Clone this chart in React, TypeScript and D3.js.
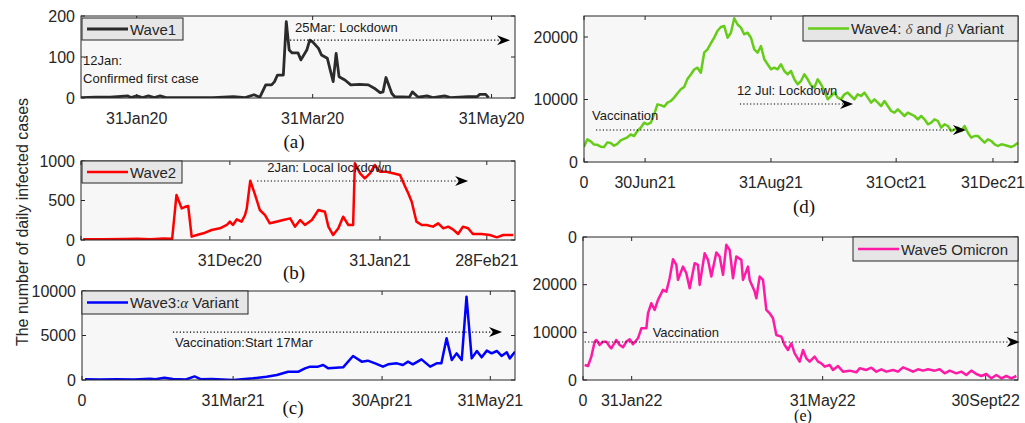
import React from "react";
import * as d3 from "d3";

// ---------------- DATA ----------------
// Wave 1 (a): day index from 12 Jan 2020
const wave1Days = [0, 5, 10, 16, 17, 19, 21, 23, 25, 27, 29, 36, 45, 52, 56, 59, 61, 63, 65, 66, 67, 69, 70, 71, 72, 74, 75, 77, 78, 79, 81, 82, 84, 85, 86, 87, 88, 90, 92, 95, 98, 100, 102, 103, 104, 106, 107, 112, 113, 115, 118, 120, 124, 126, 132, 135, 136, 138, 139];
const wave1Cases = [1, 2, 2, 5, 1, 5, 1, 5, 1, 5, 1, 1, 1, 3, 1, 8, 2, 32, 32, 40, 56, 56, 186, 117, 110, 110, 93, 117, 141, 137, 121, 105, 97, 68, 40, 109, 52, 44, 32, 33, 32, 24, 13, 15, 50, 11, 3, 2, 15, 2, 5, 1, 5, 1, 3, 3, 9, 9, 1];
const wave1TickPos = [19, 79, 140];
const wave1TickLabels = ["31Jan20", "31Mar20", "31May20"];

// Wave 2 (b)
const wave2Idx = [0.5, 5, 10, 13, 16, 19, 21, 22, 23.2, 24, 24.7, 25.5, 26.7, 28.2, 30.1, 32, 33.6, 34.3, 35, 35.9, 37, 37.8, 38.2, 39, 40, 41.2, 42.4, 43.5, 45, 46.6, 48.2, 49.3, 50.5, 51.6, 53.2, 54.7, 56.2, 57, 58.1, 59.3, 60.4, 61.6, 62.7, 63.1, 64.3, 65.4, 66.6, 67.7, 68.9, 70.4, 71.9, 73.5, 74.7, 75.4, 76.2, 77.3, 78.5, 79.6, 81.1, 82.3, 83.5, 84.6, 85.7, 86.9, 88, 89.2, 90.3, 92.3, 94.2, 95.8, 97.3, 99.6];
const wave2Cases = [9, 10, 12, 15, 8, 20, 15, 570, 400, 420, 430, 42, 63, 85, 127, 148, 190, 232, 190, 262, 232, 316, 400, 750, 591, 380, 316, 211, 232, 253, 274, 169, 253, 190, 253, 380, 358, 169, 63, 148, 295, 190, 190, 970, 844, 780, 844, 950, 865, 865, 844, 823, 675, 591, 485, 232, 190, 190, 169, 211, 148, 169, 135, 76, 169, 148, 76, 76, 63, 34, 63, 63];
const wave2TickPos = [0, 34.3, 68.9, 93.5];
const wave2TickLabels = ["0", "31Dec20", "31Jan21", "28Feb21"];

// Wave 3 (c)
const wave3Idx = [0.7, 4, 8, 12, 15.7, 17, 19, 21, 24, 26, 27.5, 30, 35, 39.5, 42.6, 45, 47.6, 50, 51.5, 52.7, 54.5, 55.7, 56.9, 60.3, 62.6, 64.6, 66, 67.7, 69.5, 70.7, 72.7, 74.1, 75.3, 76.4, 78.4, 80.4, 81.9, 83, 84.2, 85.4, 86.5, 87.7, 88.8, 90, 91.2, 92.3, 93.5, 94.6, 95.8, 96.9, 98.1, 98.8, 100];
const wave3Cases = [75, 50, 80, 60, 150, 90, 250, 100, 60, 400, 80, 100, 0, 187, 375, 560, 935, 935, 1310, 1500, 1500, 1685, 1310, 1420, 2700, 2060, 2170, 1870, 1500, 1760, 1870, 1685, 2060, 1760, 2320, 1500, 1870, 1870, 4680, 2250, 2990, 2250, 9360, 2430, 3260, 2550, 3300, 3000, 3260, 2700, 3110, 2430, 3180];
const wave3TickPos = [0, 34.9, 69.3, 94.3];
const wave3TickLabels = ["0", "31Mar21", "30Apr21", "31May21"];

// Wave 4 (d): consecutive index 0..130
const wave4Cases = [
  2450, 3630, 3300, 2800, 2750, 2450, 2400, 3140, 3040, 2600,
  2900, 3450, 3700, 3950, 4400, 4160, 4960, 5490, 6290, 6030,
  6290, 7620, 9220, 9100, 8840, 9500, 9760, 10300, 11000, 11630,
  12000, 13300, 14000, 14800, 15090, 14290, 17490, 18020, 19000, 19900,
  21000, 21600, 21760, 19890, 20690, 23000, 22000, 21490, 20430, 20690,
  19890, 18020, 17490, 18560, 16430, 15630, 14830, 15090, 14830, 15630,
  14560, 14030, 14560, 13230, 12430, 12960, 14030, 13230, 12270, 11900,
  13230, 12430, 11360, 10030, 10560, 11100, 10300, 10030, 10830, 11100,
  10560, 10030, 10830, 10560, 11100, 10300, 9500, 10030, 9500, 8960,
  9760, 8960, 8160, 7890, 8430, 7890, 7360, 7890, 7620, 7360,
  6830, 7360, 6830, 6030, 6290, 6830, 6560, 5490, 6030, 5760,
  4960, 5230, 5490, 4960, 5760, 4690, 3900, 4160, 4160, 3630,
  3100, 3630, 3360, 2830, 2560, 2830, 2720, 2560, 2400, 2670,
  3100,
];
const wave4Idx = wave4Cases.map((_, i) => i);
const wave4TickPos = [0, 18.3, 56, 93.5, 122.5];
const wave4TickLabels = ["0", "30Jun21", "31Aug21", "31Oct21", "31Dec21"];

// Wave 5 (e)
const wave5Idx = [0.5, 1.5, 2.5, 3.5, 4, 5, 6, 7, 8, 8.5, 10, 11, 12, 13, 14, 15, 16.5, 17.5, 19, 19.5, 20.5, 21.5, 22.5, 24, 25, 26, 27, 28, 28.5, 30, 31, 32, 33.5, 34.5, 35, 36.5, 37.5, 38.5, 40, 41, 42, 43, 44, 45, 46, 47.5, 48, 49.5, 50, 51.5, 52, 53, 54, 55, 56, 57, 58, 59.5, 60.5, 61.5, 62.5, 63.5, 65, 66, 67, 68, 69.5, 70.5, 71.5, 72.5, 74, 75, 76.5, 78, 80, 82, 83, 85, 86.5, 88, 89.5, 91, 93, 94.5, 96, 97.5, 99, 100.5, 102, 103.5, 105.5, 107, 108.5, 110, 112, 113.5, 115, 116.5, 118, 119.5, 121, 122.5, 124, 125.5, 127, 128.5, 130];
const wave5Cases = [3150, 2940, 4900, 8050, 8400, 7350, 8050, 8050, 7000, 6650, 8400, 7350, 6860, 8050, 8540, 7490, 8750, 10850, 10850, 14000, 16100, 14700, 16800, 18900, 18550, 21350, 25340, 24150, 21000, 23800, 22400, 19250, 24500, 24150, 19950, 26600, 25200, 21700, 26740, 25900, 22050, 28350, 27300, 21350, 25900, 25200, 21000, 23800, 21000, 18550, 17150, 21700, 21000, 14700, 14000, 12950, 9450, 9100, 7350, 6300, 7700, 5600, 3850, 6300, 4550, 3850, 4900, 3850, 3500, 2800, 3150, 2100, 2940, 1750, 1960, 1610, 2450, 2100, 2590, 1750, 2240, 1750, 2100, 1750, 2660, 2240, 1750, 2240, 1960, 2240, 1960, 2240, 1400, 1960, 1400, 1750, 1050, 1960, 1260, 840, 1260, 350, 1050, 350, 840, 350, 840];
const wave5TickPos = [0, 14.6, 71.9, 120.8];
const wave5TickLabels = ["0", "31Jan22", "31May22", "30Sept22"];

// ---------------- LAYOUT ----------------
const SANS = "'Liberation Sans', Arial, Helvetica, sans-serif";
const SERIF = "'Liberation Serif', 'Times New Roman', serif";
const AXIS = "#262626";

type Note = { text: string; x: number; y: number };
type Arrow = { x1: number; x2: number; y: number };
type Spec = {
  id: string;
  box: [number, number, number, number]; // left, top, right, bottom
  xDomain: [number, number];
  yDomain: [number, number];
  xs: number[];
  ys: number[];
  xTicks: number[];
  xLabels: string[];
  yTicks: number[];
  yLabels: string[];
  color: string;
  lw: number;
  legend: { box: [number, number, number, number]; label: React.ReactNode };
  notes: Note[];
  arrows: Arrow[];
  tag: { text: string; x: number; y: number; size: number };
};

const greek = (ch: string) => (
  <tspan fontFamily={SERIF} fontStyle="italic" fill="#555">{ch}</tspan>
);

const specs: Spec[] = [
  {
    id: "a",
    box: [81, 16, 515, 98],
    xDomain: [0, 148],
    yDomain: [0, 200],
    xs: wave1Days,
    ys: wave1Cases,
    xTicks: wave1TickPos,
    xLabels: wave1TickLabels,
    yTicks: [0, 100, 200],
    yLabels: ["0", "100", "200"],
    color: "#2b2b2b",
    lw: 2.8,
    legend: { box: [82, 18, 183, 40], label: "Wave1" },
    notes: [
      { text: "25Mar: Lockdown", x: 73, y: 161 },
      { text: "12Jan:", x: 0.7, y: 80 },
      { text: "Confirmed first case", x: 0.7, y: 36 },
    ],
    arrows: [{ x1: 71.3, x2: 146.3, y: 141 }],
    tag: { text: "(a)", x: 294, y: 148, size: 19 },
  },
  {
    id: "b",
    box: [81, 161, 515, 240],
    xDomain: [0, 100],
    yDomain: [0, 1000],
    xs: wave2Idx,
    ys: wave2Cases,
    xTicks: wave2TickPos,
    xLabels: wave2TickLabels,
    yTicks: [0, 500, 1000],
    yLabels: ["0", "500", "1000"],
    color: "#ff0000",
    lw: 2.5,
    legend: { box: [82, 161, 182, 183], label: "Wave2" },
    notes: [{ text: "2Jan: Local lockdown", x: 42.9, y: 861 }],
    arrows: [{ x1: 40.6, x2: 89.2, y: 747 }],
    tag: { text: "(b)", x: 294, y: 279, size: 19 },
  },
  {
    id: "c",
    box: [82, 291, 515, 380],
    xDomain: [0, 100],
    yDomain: [0, 10000],
    xs: wave3Idx,
    ys: wave3Cases,
    xTicks: wave3TickPos,
    xLabels: wave3TickLabels,
    yTicks: [0, 5000, 10000],
    yLabels: ["0", "5000", "10000"],
    color: "#0000ff",
    lw: 2.5,
    legend: {
      box: [82, 291, 248, 314],
      label: (
        <>
          Wave3:<tspan fontFamily={SERIF} fontStyle="italic">α</tspan> Variant
        </>
      ),
    },
    notes: [{ text: "Vaccination:Start 17Mar", x: 21.5, y: 3700 }],
    arrows: [{ x1: 21, x2: 97, y: 5390 }],
    tag: { text: "(c)", x: 293, y: 414, size: 19 },
  },
  {
    id: "d",
    box: [584, 16, 1018, 162],
    xDomain: [0, 130],
    yDomain: [0, 23360],
    xs: wave4Idx,
    ys: wave4Cases,
    xTicks: wave4TickPos,
    xLabels: wave4TickLabels,
    yTicks: [0, 10000, 20000],
    yLabels: ["0", "10000", "20000"],
    color: "#66cc1a",
    lw: 2.5,
    legend: {
      box: [803, 16, 1018, 41],
      label: (
        <>
          Wave4: {greek("δ")} and {greek("β")} Variant
        </>
      ),
    },
    notes: [
      { text: "12 Jul: Lockdown", x: 45.8, y: 10720 },
      { text: "Vaccination", x: 2.4, y: 6720 },
    ],
    arrows: [
      { x1: 46.7, x2: 80.6, y: 9280 },
      { x1: 3.6, x2: 114.4, y: 5120 },
    ],
    tag: { text: "(d)", x: 804, y: 213, size: 19 },
  },
  {
    id: "e",
    box: [583, 237, 1018, 380],
    xDomain: [0, 130.5],
    yDomain: [0, 30000],
    xs: wave5Idx,
    ys: wave5Cases,
    xTicks: wave5TickPos,
    xLabels: wave5TickLabels,
    yTicks: [0, 10000, 20000, 30000],
    yLabels: ["0", "10000", "20000", "0"],
    color: "#ff1aa6",
    lw: 2.5,
    legend: { box: [853, 237, 1018, 261], label: "Wave5 Omicron" },
    notes: [{ text: "Vaccination", x: 20.9, y: 9020 }],
    arrows: [{ x1: 0.5, x2: 131, y: 7970 }],
    tag: { text: "(e)", x: 803, y: 421, size: 16 },
  },
];

function Panel({ s }: { s: Spec }) {
  const [l, t, r, b] = s.box;
  const x = d3.scaleLinear().domain(s.xDomain).range([l, r]);
  const y = d3.scaleLinear().domain(s.yDomain).range([b, t]);
  const pts: [number, number][] = s.xs.map((v, i) => [v, s.ys[i]]);
  const path = d3
    .line<[number, number]>()
    .x((d) => x(d[0]))
    .y((d) => y(d[1]))(pts) as string;
  const tl = 4;
  const [lx0, ly0, lx1, ly1] = s.legend.box;
  const lmid = (ly0 + ly1) / 2;
  return (
    <g>
      <defs>
        <clipPath id={`clip-${s.id}`}>
          <rect x={l} y={t - 2} width={r - l} height={b - t + 2} />
        </clipPath>
      </defs>
      <rect x={l} y={t} width={r - l} height={b - t} fill="#f7f7f7" />
      <path
        d={path}
        fill="none"
        stroke={s.color}
        strokeWidth={s.lw}
        strokeLinejoin="round"
        clipPath={`url(#clip-${s.id})`}
      />
      {/* annotations */}
      {s.arrows.map((a, i) => {
        const x1 = x(a.x1);
        const tx = x(a.x2);
        const yy = y(a.y);
        return (
          <g key={i}>
            <line x1={x1} x2={tx - 9} y1={yy} y2={yy} stroke="#000" strokeWidth={1.2} strokeDasharray="1.2 2.2" />
            <path d={`M${tx},${yy} L${tx - 13},${yy - 5} L${tx - 9},${yy} L${tx - 13},${yy + 5} Z`} fill="#000" />
          </g>
        );
      })}
      {s.notes.map((n, i) => (
        <text key={i} x={x(n.x)} y={y(n.y)} fontFamily={SANS} fontSize={13} fill="#1a1a1a">
          {n.text}
        </text>
      ))}
      {/* frame */}
      <rect x={l} y={t} width={r - l} height={b - t} fill="none" stroke={AXIS} strokeWidth={1} />
      {/* ticks */}
      {s.xTicks.map((v, i) => (
        <g key={`xt${i}`}>
          <line x1={x(v)} x2={x(v)} y1={b} y2={b - tl} stroke={AXIS} />
          <line x1={x(v)} x2={x(v)} y1={t} y2={t + tl} stroke={AXIS} />
          <text x={x(v)} y={b + 26} textAnchor="middle" fontFamily={SANS} fontSize={16} fill={AXIS}>
            {s.xLabels[i]}
          </text>
        </g>
      ))}
      {s.yTicks.map((v, i) => (
        <g key={`yt${i}`}>
          <line x1={l} x2={l + tl} y1={y(v)} y2={y(v)} stroke={AXIS} />
          <line x1={r} x2={r - tl} y1={y(v)} y2={y(v)} stroke={AXIS} />
          <text x={l - 6} y={y(v)} dy="0.36em" textAnchor="end" fontFamily={SANS} fontSize={16} fill={AXIS}>
            {s.yLabels[i]}
          </text>
        </g>
      ))}
      {/* legend */}
      <rect x={lx0} y={ly0} width={lx1 - lx0} height={ly1 - ly0} fill="#e6e6e6" stroke={AXIS} strokeWidth={1} />
      <line x1={lx0 + 5} x2={lx0 + 46} y1={lmid} y2={lmid} stroke={s.color} strokeWidth={s.lw} />
      <text x={lx0 + 48} y={lmid + 5.5} fontFamily={SANS} fontSize={15} fill={AXIS}>
        {s.legend.label}
      </text>
      <text x={s.tag.x} y={s.tag.y} textAnchor="middle" fontFamily={SERIF} fontSize={s.tag.size} fill="#111">
        {s.tag.text}
      </text>
    </g>
  );
}

export default function App() {
  return (
    <svg
      width={1025}
      height={423}
      viewBox="0 0 1025 423"
      style={{ position: "absolute", left: 0, top: 0, background: "#fff" }}
    >
      <rect x={0} y={0} width={1025} height={423} fill="#fff" />
      {specs.map((s) => (
        <Panel key={s.id} s={s} />
      ))}
      <text
        transform="translate(22,222) rotate(-90)"
        textAnchor="middle"
        dy="0.35em"
        fontFamily={SANS}
        fontSize={16}
        fill={AXIS}
      >
        The number of daily infected cases
      </text>
    </svg>
  );
}
